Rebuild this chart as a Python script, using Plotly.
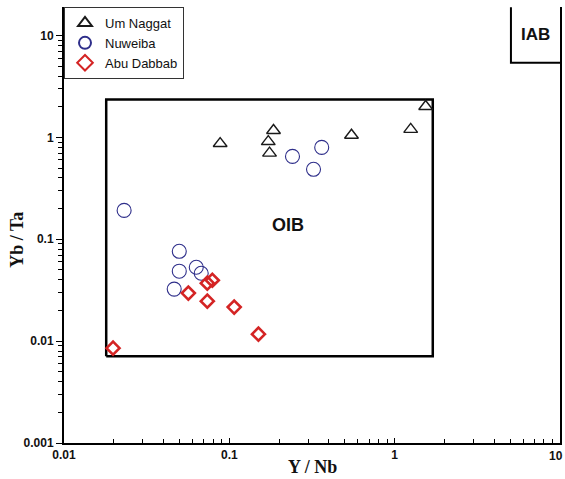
import math
import plotly.graph_objects as go

# Y/Nb vs Yb/Ta discrimination diagram
um_naggat_x = [0.088, 0.185, 0.172, 0.175, 0.548, 1.25, 1.54]
um_naggat_y = [0.87, 1.17, 0.91, 0.70, 1.05, 1.20, 2.01]

nuweiba_x = [0.0231, 0.0498, 0.0498, 0.0631, 0.0676, 0.0464, 0.241, 0.362, 0.323]
nuweiba_y = [0.192, 0.0762, 0.0486, 0.0531, 0.0464, 0.0324, 0.651, 0.798, 0.486]

abu_dabbab_x = [0.0198, 0.0565, 0.0736, 0.0736, 0.0789, 0.107, 0.150]
abu_dabbab_y = [0.00853, 0.0296, 0.0247, 0.0371, 0.0396, 0.0216, 0.0117]

# Field boundaries
oib_x = [0.018, 1.70]
oib_y = [0.0071, 2.36]
iab_x = [5.05, 10]
iab_y = [5.4, 19.0]

x_ticks = [0.01, 0.1, 1, 10]
x_ticktext = ["0.01", "0.1", "1", ""]   # last label is drawn right-aligned below
x_last_label = "10"
y_ticks = [0.001, 0.01, 0.1, 1, 10]
y_ticktext = ["0.001", "0.01", "0.1", "1", "10"]

fig = go.Figure()

# OIB field
fig.add_trace(go.Scatter(
    x=[oib_x[0], oib_x[1], oib_x[1], oib_x[0], oib_x[0]],
    y=[oib_y[0], oib_y[0], oib_y[1], oib_y[1], oib_y[0]],
    mode="lines", line=dict(color="black", width=2.5),
    showlegend=False, hoverinfo="skip"))

# IAB field
fig.add_trace(go.Scatter(
    x=[iab_x[0], iab_x[0], iab_x[1]],
    y=[iab_y[1], iab_y[0], iab_y[0]],
    mode="lines", line=dict(color="black", width=2),
    showlegend=False, hoverinfo="skip", cliponaxis=False))

fig.add_trace(go.Scatter(
    x=um_naggat_x, y=um_naggat_y, mode="markers", name="Um Naggat",
    marker=dict(symbol="triangle-up-open", size=12, color="#1a1a1a",
                line=dict(width=1.4, color="#1a1a1a")), cliponaxis=False))
fig.add_trace(go.Scatter(
    x=nuweiba_x, y=nuweiba_y, mode="markers", name="Nuweiba",
    marker=dict(symbol="circle-open", size=14, color="#2e2e8a",
                line=dict(width=1.1, color="#2e2e8a"))))
fig.add_trace(go.Scatter(
    x=abu_dabbab_x, y=abu_dabbab_y, mode="markers", name="Abu Dabbab",
    marker=dict(symbol="diamond-open", size=10, color="#d42424",
                line=dict(width=2.6, color="#d42424")), cliponaxis=False))

bold_sans = dict(family="Liberation Sans, Arial", size=12, color="#111", weight="bold")

fig.update_layout(
    width=565, height=479,
    margin=dict(l=64, r=5, t=7, b=36),
    paper_bgcolor="white", plot_bgcolor="white",
    showlegend=True,
    legend=dict(x=0, y=1, xanchor="left", yanchor="top",
                bgcolor="white", bordercolor="#333", borderwidth=1,
                font=dict(family="Liberation Sans, Arial", size=13, color="#111"),
                itemsizing="constant", tracegroupgap=0),
    xaxis=dict(
        type="log", range=[-2, 1], showgrid=False, zeroline=False,
        showline=True, linecolor="black", linewidth=2,
        tickvals=x_ticks, ticktext=x_ticktext, ticks="inside", ticklen=5,
        tickcolor="black", tickwidth=1, tickfont=bold_sans,
        minor=dict(dtick="D1", ticks="inside", ticklen=4,
                   tickcolor="black", showgrid=False),
        automargin=False),
    yaxis=dict(
        type="log", range=[-3, 1.28], showgrid=False, zeroline=False,
        showline=True, linecolor="black", linewidth=2, mirror=True,
        tickvals=y_ticks, ticktext=y_ticktext, ticks="outside", ticklen=6,
        tickcolor="black", tickwidth=1, tickfont=bold_sans,
        minor=dict(dtick="D1", ticks="outside", ticklen=4,
                   tickcolor="black", showgrid=False),
        automargin=False),
    annotations=[
        dict(x=0.5, y=-0.055, xref="paper", yref="paper", text="<b>Y / Nb</b>",
             showarrow=False, yanchor="middle",
             font=dict(family="Liberation Serif, Times New Roman", size=18, color="#111")),
        dict(x=-0.095, y=0.466, xref="paper", yref="paper", text="<b>Yb / Ta</b>",
             showarrow=False, textangle=-90, xanchor="center",
             font=dict(family="Liberation Serif, Times New Roman", size=18, color="#111")),
    ],
)

# Last x tick label, right-aligned so it stays inside the page
fig.add_annotation(
    x=math.log10(x_ticks[-1]), y=0, xref="x", yref="paper",
    text="<b>" + x_last_label + "</b>", showarrow=False,
    xanchor="right", yanchor="top", xshift=5, yshift=-4,
    font=dict(family="Liberation Sans, Arial", size=12, color="#111"))

# Field labels (annotation positions on log axes are given in log units)
oib_label = (0.225, 0.137)
fig.add_annotation(
    x=math.log10(oib_label[0]), y=math.log10(oib_label[1]),
    xref="x", yref="y", text="<b>OIB</b>", showarrow=False,
    font=dict(family="Liberation Sans, Arial", size=18, color="#111"))
fig.add_annotation(
    x=(math.log10(iab_x[0]) + math.log10(iab_x[1])) / 2,
    y=(math.log10(iab_y[0]) + math.log10(iab_y[1])) / 2,
    xref="x", yref="y", text="<b>IAB</b>", showarrow=False,
    font=dict(family="Liberation Sans, Arial", size=17, color="#111"))

fig.write_html("out.html")
